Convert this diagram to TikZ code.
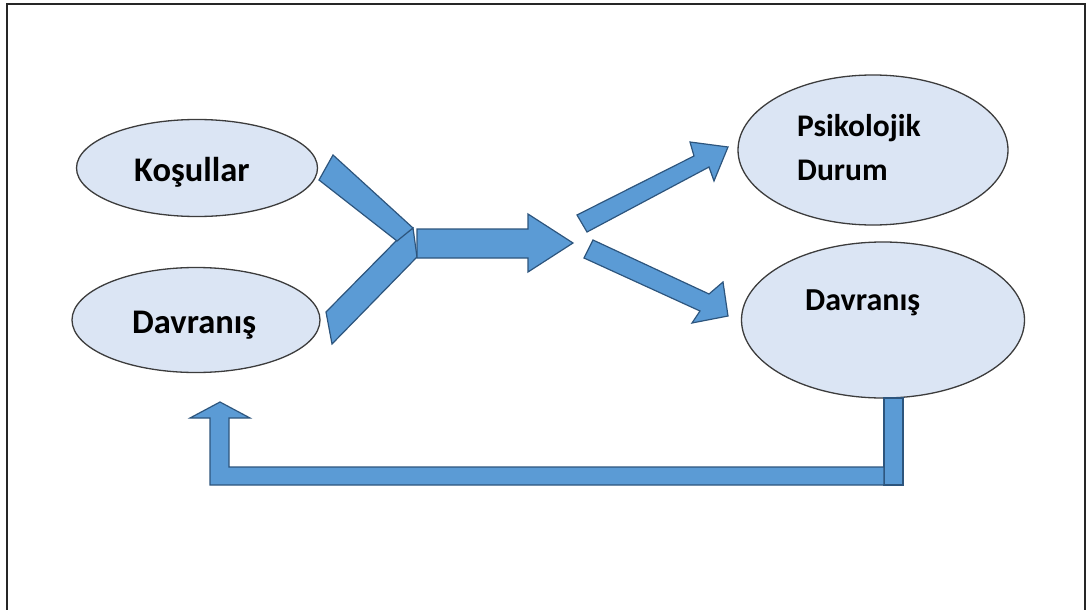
\documentclass[tikz,border=0pt]{standalone}
\usepackage{fontspec}
\newfontfamily\carlito{Carlito}
\usetikzlibrary{shapes.geometric}
\definecolor{bubblefill}{RGB}{219,229,244}
\definecolor{bubbleline}{RGB}{60,60,60}
\definecolor{arrowfill}{RGB}{91,155,213}
\definecolor{arrowline}{RGB}{45,85,125}
\begin{document}
\begin{tikzpicture}[x=1pt,y=-1pt,
  bubble/.style={ellipse,draw=bubbleline,fill=bubblefill,line width=1.3pt,inner sep=0pt},
  word/.style={anchor=base west,inner sep=0pt,font=\carlito\bfseries\fontsize{34.5}{40}\selectfont},
  blockarrow/.style={draw=arrowline,fill=arrowfill,line width=1.2pt,line join=miter}]
\useasboundingbox (0,0) rectangle (1089,610);
% Draw frame
\draw[line width=1.8pt,black!85] (7,610) -- (7,4) -- (1085,4) -- (1085,610);
% Draw bubbles
\node[bubble,minimum width=241pt,minimum height=97pt] (kosul) at (197,168) {};
\node[bubble,minimum width=248pt,minimum height=105pt] (davrin) at (196,320) {};
\node[bubble,minimum width=270pt,minimum height=150pt] (psiko) at (873,150) {};
\node[bubble,minimum width=283pt,minimum height=156pt] (davrout) at (883,320) {};
% Texts
\node[word] (kosultext) at (134,181) {Koşullar};
\node[word] (davrintext) at (132,333) {Davranış};
\node[word,font=\carlito\bfseries\fontsize{31.5}{38}\selectfont] (psikotext) at (797,136) {Psikolojik};
\node[word,font=\carlito\bfseries\fontsize{31.5}{38}\selectfont] (durumtext) at (797,180) {Durum};
\node[word,font=\carlito\bfseries\fontsize{32}{38}\selectfont] (davrouttext) at (805,310) {Davranış};
% Draw merging arms
\draw[blockarrow] (326,312) -- (397,240) -- (413,228) -- (417,257) -- (332,344) -- cycle;
\draw[blockarrow] (333,155) -- (413,228) -- (397,241) -- (319,180) -- cycle;
% Draw middle arrow
\draw[blockarrow] (417,229) -- (528,229) -- (528,214) -- (573,243) -- (528,272) -- (528,258) -- (417,258) -- cycle;
% Draw split arrows
\draw[blockarrow] (577,215) -- (694,156) -- (690,142) -- (728,147) -- (714,181) -- (709,167) -- (587,232) -- cycle;
\draw[blockarrow] (593,240) -- (709,294) -- (723,282) -- (728,316) -- (692,323) -- (700,311) -- (584,258) -- cycle;
% Draw feedback arrow
\draw[blockarrow] (884,398) rectangle (903,485);
\draw[blockarrow] (884,467) -- (229,467) -- (229,418) -- (250,418) -- (220,402) -- (190,418) -- (210,418) -- (210,485) -- (884,485) -- cycle;
\end{tikzpicture}
\end{document}
